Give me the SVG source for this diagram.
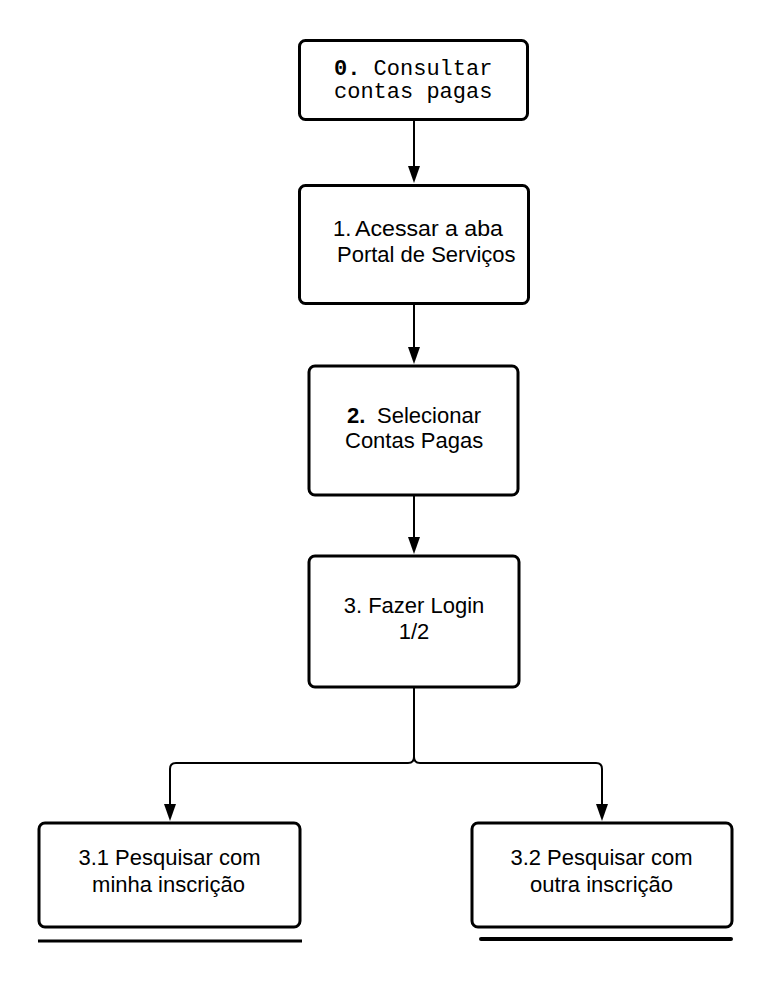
<svg xmlns="http://www.w3.org/2000/svg" width="771" height="981" viewBox="0 0 771 981">
<style>
.box{fill:#fff;stroke:#000;stroke-width:3}
.t{font-family:"Liberation Sans",Arial,sans-serif;font-size:22px;fill:#000}
.m{font-family:"Liberation Mono","Courier New",monospace;font-size:22px;fill:#000}
.c{fill:none;stroke:#000;stroke-width:2}
.u{stroke:#000;fill:none}
</style>
<rect width="771" height="981" fill="#fff"/>
<g id="connectors">
<path class="c" d="M414,120 V166"/>
<path d="M408,166 L420,166 L414,183 Z"/>
<path class="c" d="M414,304 V347"/>
<path d="M408,347 L420,347 L414,364 Z"/>
<path class="c" d="M414,495 V537"/>
<path d="M408,537 L420,537 L414,554 Z"/>
<path class="c" d="M414,688 V757 Q414,763 408,763 H176 Q170,763 170,769 V804"/>
<path d="M164,804 L176,804 L170,821 Z"/>
<path class="c" d="M414,757 Q414,763 420,763 H596 Q602,763 602,769 V804"/>
<path d="M596,804 L608,804 L602,821 Z"/>
</g>
<g id="node0">
<rect class="box" x="299.5" y="40.5" width="228" height="79" rx="6"/>
<text class="m" x="334" y="75"><tspan font-weight="bold">0.</tspan> Consultar</text>
<text class="m" x="334" y="98">contas pagas</text>
</g>
<g id="node1">
<rect class="box" x="299.5" y="185.5" width="229" height="118" rx="6"/>
<text class="t" x="333" y="236">1.<tspan x="355" textLength="148" lengthAdjust="spacingAndGlyphs">Acessar a aba</tspan></text>
<text class="t" x="337" y="262">Portal de Serviços</text>
</g>
<g id="node2">
<rect class="box" x="309" y="366" width="209" height="129" rx="6"/>
<text class="t" x="347" y="423"><tspan font-weight="bold">2.</tspan><tspan x="377">Selecionar</tspan></text>
<text class="t" x="345" y="448">Contas Pagas</text>
</g>
<g id="node3">
<rect class="box" x="309" y="556" width="210" height="131" rx="6"/>
<text class="t" x="414" y="613" text-anchor="middle">3. Fazer Login</text>
<text class="t" x="414" y="639" text-anchor="middle">1/2</text>
</g>
<g id="node31">
<rect class="box" x="39" y="823" width="261" height="104" rx="6"/>
<text class="t" x="169.5" y="865" text-anchor="middle">3.1 Pesquisar com</text>
<text class="t" x="168.5" y="892" text-anchor="middle">minha inscrição</text>
<line class="u" x1="38" y1="941" x2="302" y2="941" stroke-width="3"/>
</g>
<g id="node32">
<rect class="box" x="472" y="823" width="260" height="104" rx="6"/>
<text class="t" x="601.5" y="865" text-anchor="middle">3.2 Pesquisar com</text>
<text class="t" x="601.5" y="892" text-anchor="middle">outra inscrição</text>
<line class="u" x1="481" y1="939" x2="731" y2="939" stroke-width="4" stroke-linecap="round"/>
</g>
</svg>
